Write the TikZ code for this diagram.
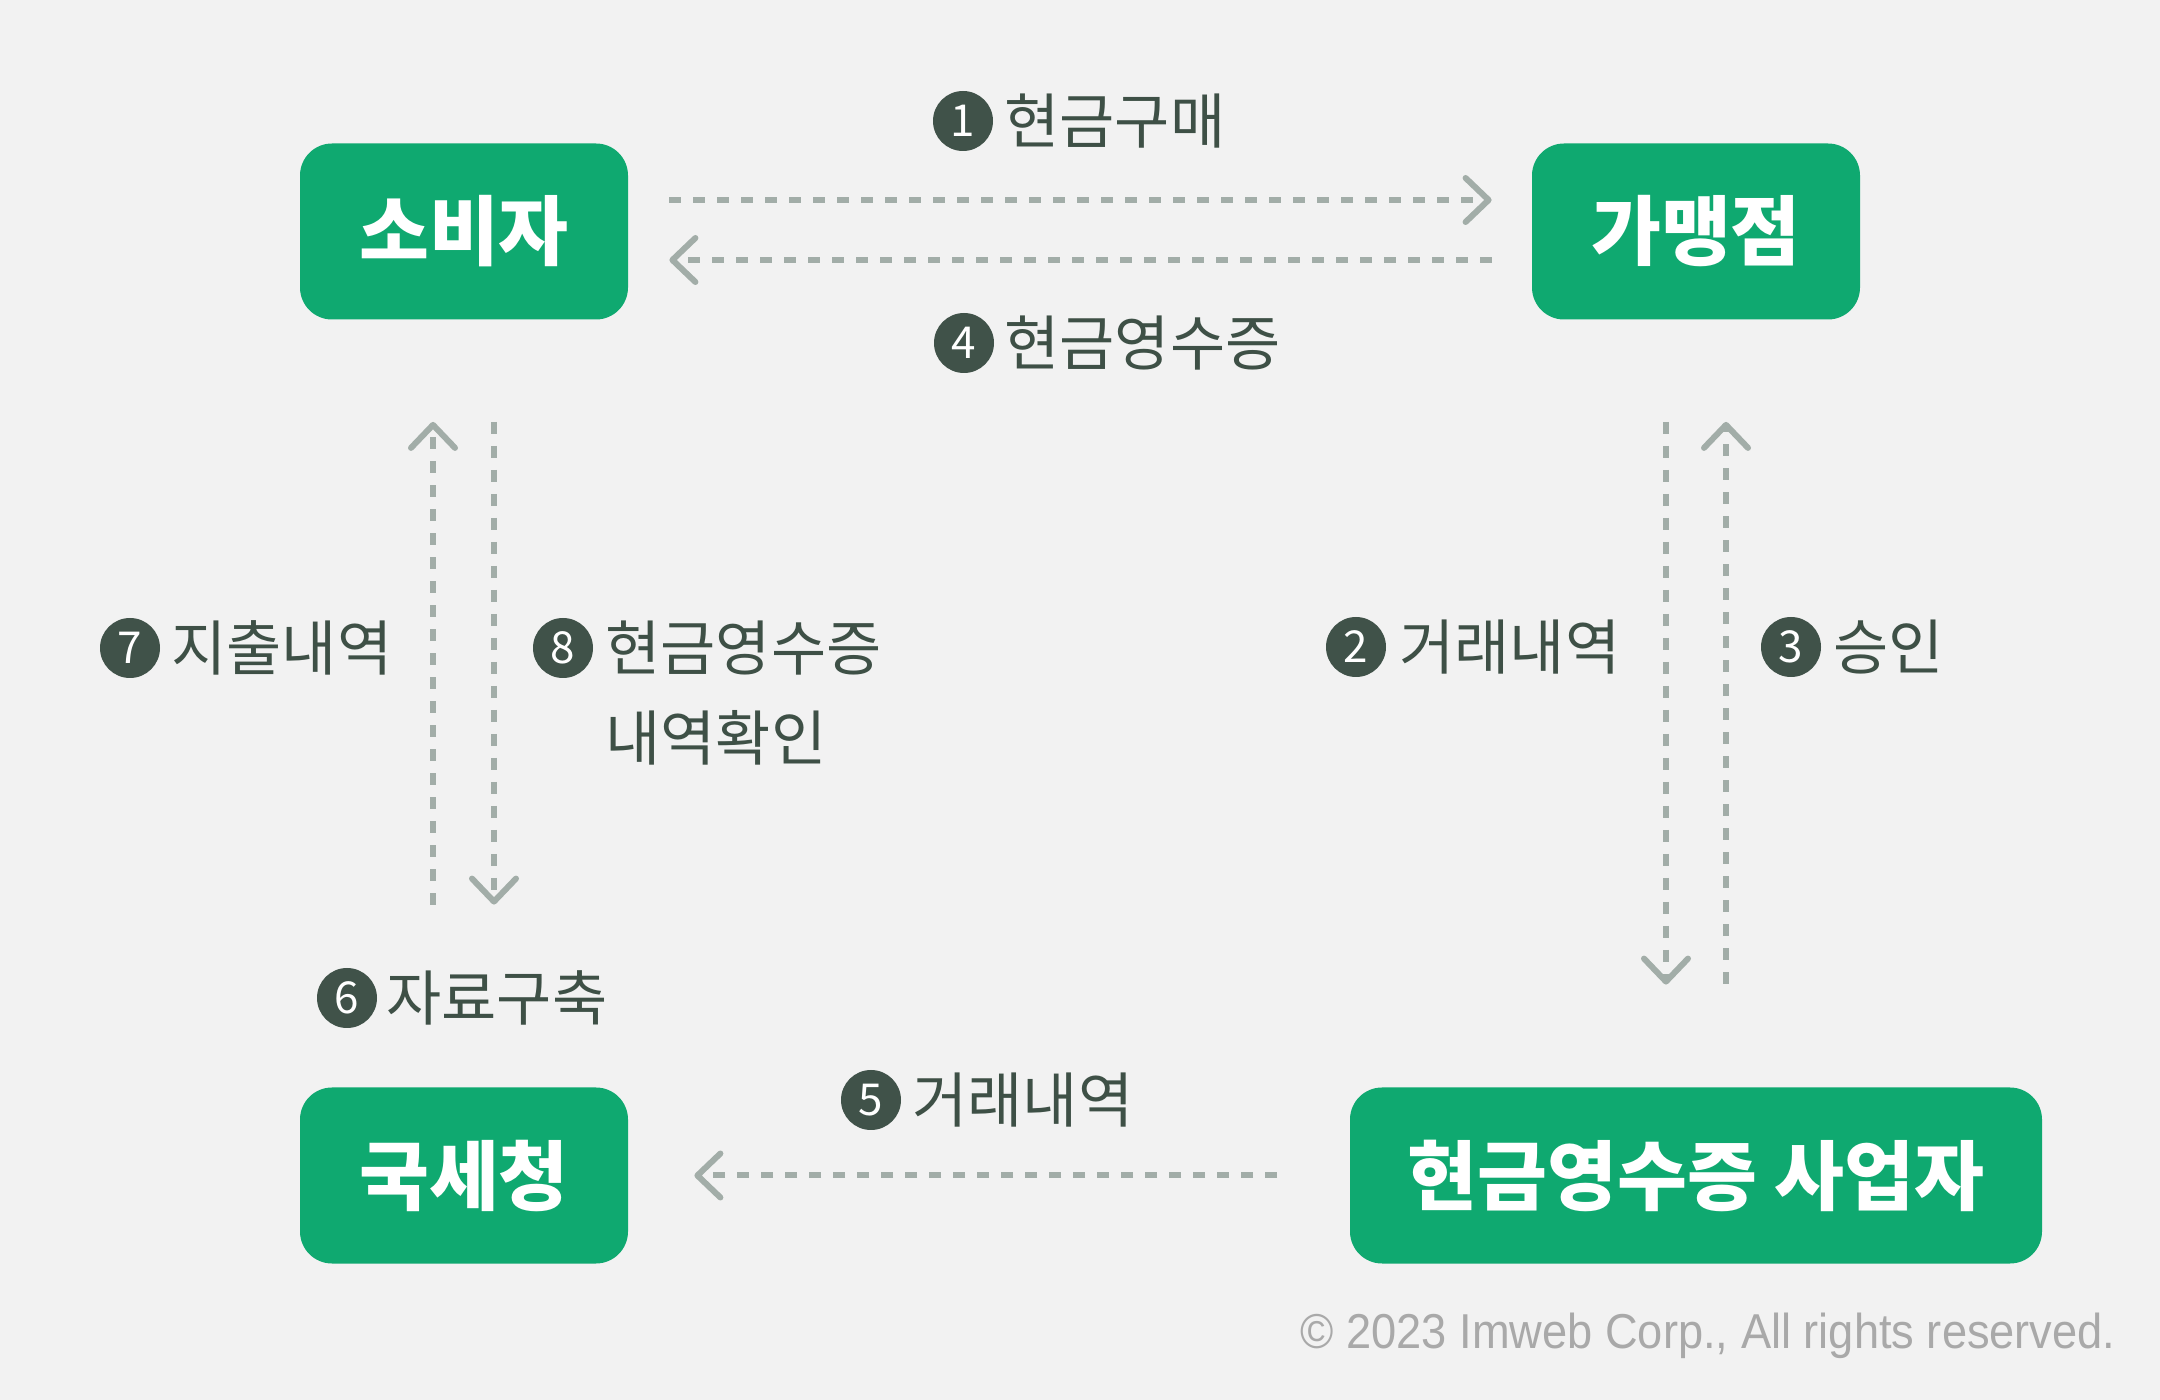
\documentclass[tikz,border=0pt]{standalone}
\usepackage{fontspec}
\usepackage{graphicx}
\setmainfont{Noto Sans CJK KR}
\newfontfamily\latinfont{Liberation Sans}
\usetikzlibrary{arrows.meta,calc}
\definecolor{bg}{HTML}{F2F2F2}
\definecolor{boxgreen}{HTML}{0FA970}
\definecolor{numdark}{HTML}{405249}
\definecolor{lbldark}{HTML}{3E5046}
\definecolor{arrowgray}{HTML}{A2ADA8}
\definecolor{copygray}{HTML}{A9A9A9}
\begin{document}
\begin{tikzpicture}[x=0.5pt,y=-0.5pt,
  box/.style={rectangle, rounded corners=16pt, fill=boxgreen, text=white,
    font=\fontsize{38}{44}\selectfont\bfseries, minimum width=164pt,
    minimum height=88pt, inner sep=0pt},
  num/.style={circle, fill=numdark, text=white, minimum size=30pt,
    inner sep=0pt, font=\fontsize{22}{24}\selectfont},
  lbl/.style={text=lbldark, font=\fontsize{30}{45}\selectfont, inner sep=0pt},
  flow/.style={draw=arrowgray, line width=3pt, dash pattern=on 6pt off 6pt,
    -{Straight Barb[length=11.5pt,width=22pt,line cap=round,line join=round]}},
]
\fill[bg] (0,0) rectangle (2160,1400);
\useasboundingbox (0,0) rectangle (2160,1400);

% boxes
\node[box] (consumer) at (464,231.5) {소비자};
\node[box] (merchant) at (1696,231.5) {가맹점};
\node[box] (nts) at (464,1175.5) {국세청};
\node[box, minimum width=346pt] (biz) at (1696,1175.5) {현금영수증 사업자};

% connectors
\draw[flow] ([shift={(41,-31.5)}]consumer.east) -- ([shift={(-40,-31.5)}]merchant.west);
\draw[flow] ([shift={(-40,28.5)}]merchant.west) -- ([shift={(41,28.5)}]consumer.east);
\draw[flow] ([shift={(-30,102)}]merchant.south) -- ([shift={(-30,-102.5)}]biz.north);
\draw[flow] ([shift={(30,-103.5)}]biz.north) -- ([shift={(30,102)}]merchant.south);
\draw[flow] ([shift={(-72.5,0)}]biz.west) -- ([shift={(66,0)}]nts.east);
\draw[flow] ([shift={(-31,-182.5)}]nts.north) -- ([shift={(-31,102)}]consumer.south);
\draw[flow] ([shift={(30,102)}]consumer.south) -- ([shift={(30,-182.5)}]nts.north);

% labels
\node[num] (n1) at (963,121) {1};
\node[lbl, anchor=west] (l1) at (1004,121) {현금구매};
\node[num] (n4) at (964,343) {4};
\node[lbl, anchor=west] (l4) at (1004,343) {현금영수증};
\node[num] (n7) at (130,648) {7};
\node[lbl, anchor=west] (l7) at (171,648) {지출내역};
\node[num] (n8) at (563,648) {8};
\node[lbl, anchor=west, align=left] (l8) at (605,693) {현금영수증\\내역확인};
\node[num] (n2) at (1356,647) {2};
\node[lbl, anchor=west] (l2) at (1399,647) {거래내역};
\node[num] (n3) at (1791,647) {3};
\node[lbl, anchor=west] (l3) at (1833,647) {승인};
\node[num] (n6) at (347,998) {6};
\node[lbl, anchor=west] (l6) at (386,998) {자료구축};
\node[num] (n5) at (871,1100) {5};
\node[lbl, anchor=west] (l5) at (912,1100) {거래내역};

\node[anchor=base east, text=copygray, inner sep=0pt,
  font=\latinfont\fontsize{24.5}{26}\selectfont] (copy) at (2116,1348)
  {\scalebox{0.923}[1]{© 2023 Imweb Corp., All rights reserved.}};
\end{tikzpicture}
\end{document}
